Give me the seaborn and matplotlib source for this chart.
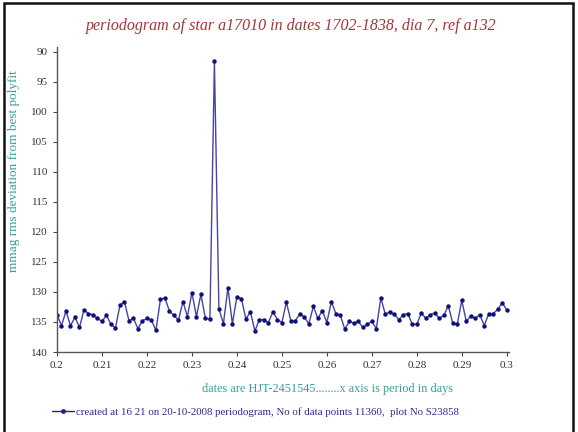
import numpy as np
import pandas as pd
import seaborn as sns
import matplotlib.pyplot as plt
from matplotlib.lines import Line2D
from matplotlib.patches import Rectangle

# period grid (days) and rms deviation (mmag)
period = np.round(np.arange(0.200, 0.3001, 0.001), 3)
mmag = [
    133.8, 135.6, 133.2, 135.6, 134.2, 135.9, 133.0, 133.6, 133.8, 134.4,
    134.9, 133.9, 135.4, 136.0, 132.2, 131.6, 134.8, 134.4, 136.1, 134.8,
    134.4, 134.7, 136.4, 131.2, 131.0, 133.2, 133.9, 134.7, 131.6, 134.1,
    130.1, 134.1, 130.4, 134.4, 134.5, 91.6, 132.8, 135.3, 129.3, 135.3,
    130.8, 131.1, 134.5, 133.3, 136.5, 134.6, 134.6, 135.1, 133.3, 134.6,
    135.1, 131.7, 134.8, 134.8, 133.6, 134.2, 135.3, 132.4, 134.4, 133.1,
    135.1, 131.6, 133.6, 133.9, 136.2, 134.9, 135.2, 134.9, 135.9, 135.4,
    134.9, 136.1, 131.0, 133.7, 133.3, 133.7, 134.6, 133.8, 133.6, 135.4,
    135.4, 133.5, 134.4, 133.8, 133.5, 134.4, 133.9, 132.3, 135.2, 135.4,
    131.4, 134.9, 134.0, 134.4, 133.8, 135.6, 133.6, 133.6, 132.9, 131.8,
    133.0,
]
y_ticks = list(range(90, 141, 5))
x_ticks = [0.2, 0.21, 0.22, 0.23, 0.24, 0.25, 0.26, 0.27, 0.28, 0.29, 0.3]
x_tick_labels = ["0.2", "0.21", "0.22", "0.23", "0.24", "0.25", "0.26", "0.27", "0.28", "0.29", "0.3"]

df = pd.DataFrame({"period": period, "mmag": mmag})

sns.set_style("white")
plt.rcParams["font.family"] = ["Liberation Serif", "DejaVu Serif"]

W, H = 578, 432
fig = plt.figure(figsize=(W / 100, H / 100), dpi=100)
ax = fig.add_axes([57 / W, (H - 352) / H, 452 / W, 305 / H])

line_col = "#22228a"
sns.lineplot(data=df, x="period", y="mmag", ax=ax, color="#4444a4", linewidth=1.0,
             marker="o", markersize=3.2, markeredgewidth=0, markerfacecolor="#10107a")

ax.set_xlim(0.2, 0.3005)
ax.set_ylim(140, 89.2)
ax.set_yticks(y_ticks)
ax.set_xticks(x_ticks)
ax.set_xticklabels(x_tick_labels)
ax.tick_params(axis="both", labelsize=8, colors="#444444", length=3, width=0.8,
               direction="out", left=True, bottom=True, labelcolor="#333333")
for s in ["top", "right"]:
    ax.spines[s].set_visible(False)
for s in ["left", "bottom"]:
    ax.spines[s].set_color("#555555")
    ax.spines[s].set_linewidth(1.0)
ax.set_xlabel("")
ax.set_ylabel("")

teal = "#3a9e9a"
fig.text(291 / W, 1 - 26 / H, "periodogram of star a17010 in dates 1702-1838, dia 7, ref a132",
         ha="center", va="center", fontsize=11.5, style="italic", color="#a33535")
fig.text(14 / W, 1 - 171 / H, "mmag rms deviation from best polyfit", rotation=90,
         ha="center", va="center", fontsize=9.5, color=teal)
fig.text(328 / W, 1 - 389 / H, "dates are HJT-2451545........x axis is period in days",
         ha="center", va="center", fontsize=8.8, color=teal)

handle = Line2D([0], [0], color=line_col, linewidth=1.0, marker="o", markersize=2.5)
fig.legend([handle], ["created at 16 21 on 20-10-2008 periodogram, No of data points 11360,  plot No S23858"],
           loc="center left", bbox_to_anchor=(52 / W, 1 - 412 / H), frameon=False,
           handlelength=2.0, handletextpad=0.2, borderpad=0, borderaxespad=0,
           prop={"size": 7.8}, labelcolor="#2a2a8a")

fig.patches.append(Rectangle((4 / W, -0.05), 569 / W, 1.05 - 3 / H, transform=fig.transFigure,
                             fill=False, edgecolor="#111111", linewidth=1.8))

fig.savefig("out.png", dpi=100)
